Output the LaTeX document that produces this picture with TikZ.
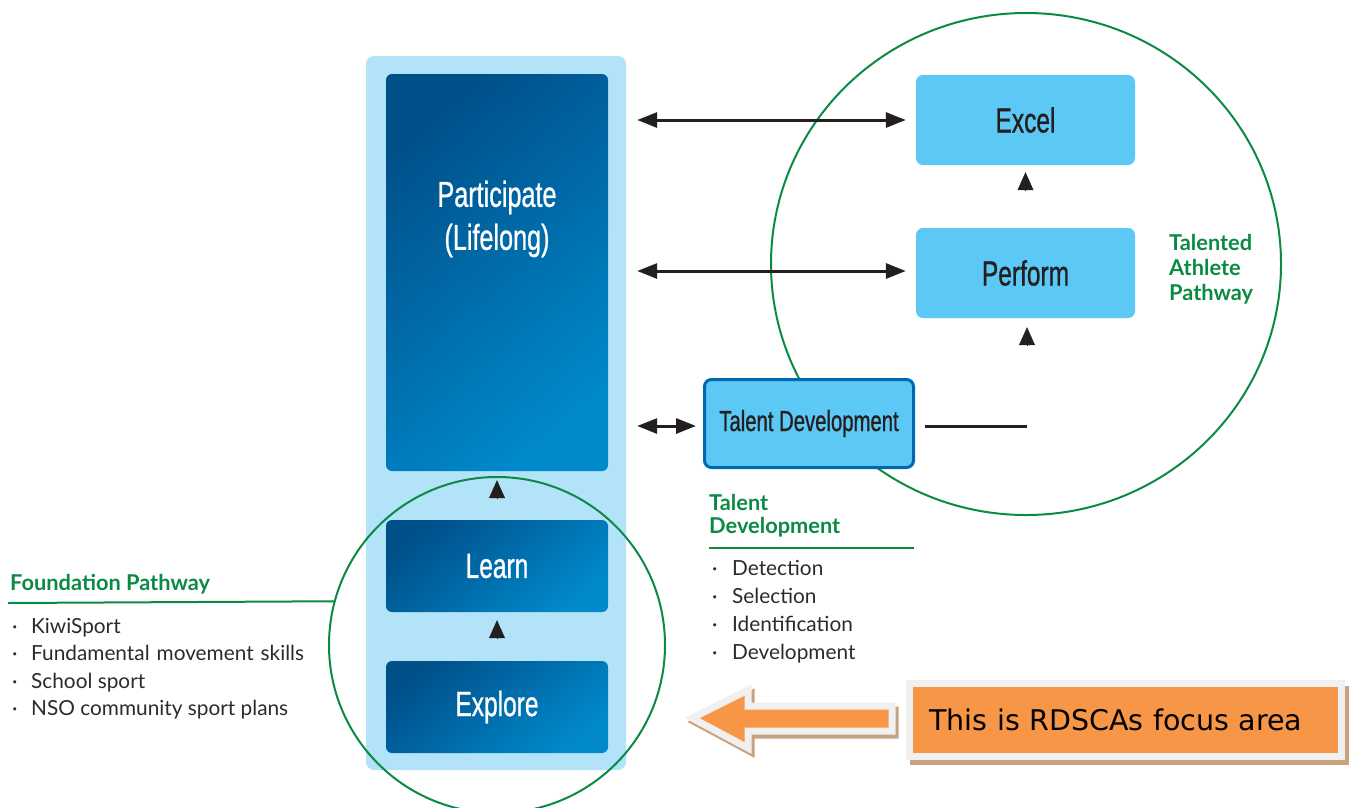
\documentclass[tikz,border=0pt]{standalone}
\usepackage{fontspec}
\setmainfont{Lato}
\newfontfamily\narrow[FakeStretch=0.70,FakeBold=0.8]{Liberation Sans}
\newfontfamily\focusfont{DejaVu Sans}
\usetikzlibrary{arrows.meta,calc,shapes.geometric}
\definecolor{bgblue}{HTML}{B3E3F8}
\definecolor{dkA}{HTML}{00508A}
\definecolor{dkB}{HTML}{0089CB}
\definecolor{cyanc}{HTML}{5BC8F5}
\definecolor{tdborder}{HTML}{0067B1}
\definecolor{greenc}{HTML}{0B8A43}
\definecolor{arrowc}{HTML}{231F20}
\definecolor{txtc}{HTML}{2B2B2B}
\definecolor{orangec}{HTML}{F79646}
\definecolor{framec}{HTML}{F0F0F0}
\definecolor{shadowc}{HTML}{C9A27F}
\tikzset{
  darkbox/.style={rounded corners=6pt, minimum width=222pt, inner sep=0pt,
    top color=dkA, bottom color=dkB, shading angle=40},
  whitetext/.style={text=white, font=\narrow\fontsize{36}{43}\selectfont, align=center, inner sep=0pt},
  cyanbox/.style={fill=cyanc, rounded corners=7pt, minimum width=219pt, minimum height=90pt,
    inner sep=0pt, text=arrowc, font=\narrow\fontsize{35}{42}\selectfont},
  dbl/.style={{Triangle[length=20pt,width=15pt]}-{Triangle[length=20pt,width=15pt]},
    line width=3pt, draw=arrowc},
  uptip/.style={-{Triangle[length=18pt,width=16pt,color=arrowc]}, line width=0.5pt, draw=arrowc},
  greenline/.style={draw=greenc, line width=2pt},
  headtext/.style={text=greenc, font=\bfseries\fontsize{21.8}{25}\selectfont, align=left, inner sep=0pt},
  listtext/.style={text=txtc, align=left, inner sep=0pt},
}
\begin{document}
\begin{tikzpicture}[x=1pt,y=-1pt]
\useasboundingbox (0,0) rectangle (1355,807);
% background strip
\node[fill=bgblue, rounded corners=8pt, minimum width=260pt, minimum height=714pt, inner sep=0pt] (bg) at (496,413) {};
% green circles
\node[ellipse, greenline, minimum width=510pt, minimum height=502pt, inner sep=0pt] (tc) at (1026,264) {};
\node[circle, greenline, minimum size=336pt, inner sep=0pt] (fc) at (497,645) {};
% dark boxes
\node[darkbox, minimum height=397pt] (participate) at (497,272.5) {};
\node[whitetext] (ptext) at (497,219) {Participate\\(Lifelong)};
\node[darkbox, minimum height=92pt, whitetext, font=\narrow\fontsize{35}{42}\selectfont] (learn) at (497,566) {Learn};
\node[darkbox, minimum height=92pt, whitetext, font=\narrow\fontsize{35}{42}\selectfont] (explore) at (497,707) {Explore};
% cyan boxes
\node[cyanbox] (excel) at (1025.5,120) {Excel};
\node[cyanbox] (perform) at (1025.5,273) {Perform};
\node[cyanbox, draw=tdborder, line width=3pt, minimum width=209pt, minimum height=88pt, font=\narrow\fontsize{29}{35}\selectfont] (td) at (809,423.5) {Talent Development};
% up arrows
\draw[uptip, shorten <=22pt, shorten >=9pt] (learn.north) -- (participate.south);
\draw[uptip, shorten <=23pt, shorten >=8pt] (explore.north) -- (learn.south);
\draw[uptip, shorten <=38pt, shorten >=7pt] (perform.north) -- (excel.south);
\coordinate (tdend) at (1027,426);
\draw[line width=3pt, arrowc] ([xshift=10pt]td.east |- tdend) -- (tdend);
\draw[uptip, shorten <=80pt, shorten >=9pt] (tdend) -- (perform.south -| tdend);
% double arrows
\draw[dbl] ([xshift=11pt]bg.east |- excel.west) -- ([xshift=-10pt]excel.west);
\draw[dbl] ([xshift=11pt]bg.east |- 0,271) -- ([xshift=-10pt]perform.west |- 0,271);
\draw[dbl] ([xshift=11pt]bg.east |- 0,426) -- ([xshift=-7pt]td.west |- 0,426);
% Foundation pathway
\node[headtext, anchor=base west] (fhead) at (10,590) {Foundation Pathway};
\coordinate (fstart) at (8,603);
\draw[greenline] (fstart) -- (fc.165.5);
\node[listtext, anchor=base west, font=\fontsize{20.8}{27.5}\selectfont] (flist) at (12,715.5)
 {\makebox[19pt][l]{\textperiodcentered}KiwiSport\\
  \makebox[19pt][l]{\textperiodcentered}Fundamental\hspace{7pt}movement\hspace{7pt}skills\\
  \makebox[19pt][l]{\textperiodcentered}School sport\\
  \makebox[19pt][l]{\textperiodcentered}NSO community sport plans};
% Talent development
\node[headtext, anchor=base west, font=\bfseries\fontsize{21.8}{23}\selectfont] (thead) at (709,533) {Talent\\Development};
\coordinate (tlstart) at (709,548);
\coordinate (tlend) at (914,548);
\draw[greenline] (tlstart) -- (tlend);
\node[listtext, anchor=base west, font=\fontsize{20.8}{28}\selectfont] (tlist) at (712,659)
 {\makebox[20pt][l]{\textperiodcentered}Detection\\
  \makebox[20pt][l]{\textperiodcentered}Selection\\
  \makebox[20pt][l]{\textperiodcentered}Identification\\
  \makebox[20pt][l]{\textperiodcentered}Development};
% Talented athlete pathway
\node[headtext, anchor=base west] (tap) at (1169,300) {Talented\\Athlete\\Pathway};
% orange block arrow
\begin{scope}[shift={(3,4)}]
\filldraw[fill=shadowc, draw=shadowc, line width=7pt, line join=miter]
  (692,718) -- (748,690) -- (748,706) -- (892,706) -- (892,731) -- (748,731) -- (748,748) -- cycle;
\end{scope}
\filldraw[fill=orangec, draw=framec, line width=7pt, line join=miter]
  (692,718) -- (748,690) -- (748,706) -- (892,706) -- (892,731) -- (748,731) -- (748,748) -- cycle;
% focus box
\fill[shadowc] (910,686) rectangle (1349,765);
\node[fill=orangec, draw=framec, line width=7pt, minimum width=432pt, minimum height=73pt,
  text width=392pt, inner xsep=20pt, align=left, text=black,
  font=\focusfont\fontsize{28.5}{32}\selectfont] (focus) at (1125.5,719.5) {This is RDSCAs focus area};
\end{tikzpicture}
\end{document}
